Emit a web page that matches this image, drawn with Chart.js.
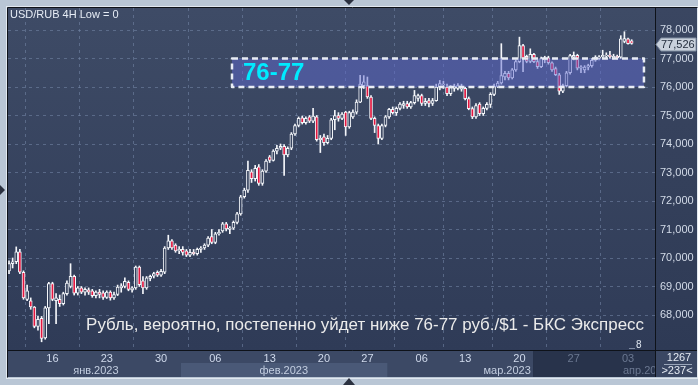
<!DOCTYPE html>
<html><head><meta charset="utf-8">
<script src="https://cdn.jsdelivr.net/npm/chart.js@4.4.0/dist/chart.umd.min.js"></script>
<style>html,body{margin:0;padding:0;background:#b9c6d5;overflow:hidden}canvas{display:block}</style>
</head><body>
<canvas id="c" width="698" height="385"></canvas>
<script>
// ---- DATA (USD/RUB 4H candles) ----
const openP = [
69.55,69.8,69.87,70.22,69.5,68.55,68.5,68.28,67.6,67.88,
67.2,68.25,69.1,68.5,68.55,68.4,68.75,69.0,69.36,68.77,
68.95,68.8,68.88,68.85,68.68,68.8,68.78,68.62,68.8,68.6,
68.72,68.95,69.0,69.15,68.88,68.95,69.68,69.2,68.95,69.28,
69.36,69.5,69.4,69.5,70.35,70.6,70.45,70.25,70.3,70.25,
70.1,70.2,70.15,70.3,70.35,70.45,70.75,70.55,70.85,70.95,
71.2,71.0,71.05,71.25,71.55,72.15,72.38,73.02,72.78,73.2,
72.62,73.05,73.55,73.42,73.75,73.85,73.92,73.62,73.85,74.35,
74.65,74.92,74.75,74.95,74.8,74.95,74.15,74.25,74.05,74.2,
74.85,75.0,74.9,75.12,74.6,74.95,75.12,75.47,76.05,76.05,
75.65,74.9,74.65,74.2,74.65,74.95,75.22,75.1,75.25,75.35,
75.42,75.3,75.45,75.6,75.7,75.42,75.52,75.42,75.52,76.0,
76.08,76.0,75.77,75.95,75.95,75.92,75.95,75.59,75.24,74.95,
75.4,75.06,75.25,75.39,75.74,76.02,76.14,76.35,76.48,76.32,
76.6,76.89,77.45,77.08,76.9,77.15,76.89,76.71,76.95,77.02,
76.85,76.65,76.43,75.85,76.05,76.5,77.05,77.11,76.66,76.6,
76.7,76.75,76.94,77.0,77.06,77.08,77.12,77.02,77.08,77.05,
77.6,77.69,77.62];
const highP = [
69.9,70.0,70.39,70.3,69.55,69.05,68.6,68.3,67.95,67.95,
68.3,69.15,69.15,68.75,68.7,68.8,69.2,69.8,69.4,69.0,
69.0,68.95,68.95,68.9,68.85,68.9,68.85,68.85,68.85,68.8,
69.05,69.1,69.3,69.2,69.0,69.72,69.72,69.35,69.35,69.4,
69.5,69.55,69.6,70.4,70.8,70.65,70.5,70.4,70.4,70.3,
70.3,70.3,70.35,70.4,70.5,70.75,71.0,70.9,71.0,71.25,
71.25,71.1,71.3,71.6,72.2,72.45,73.4,73.1,73.25,73.28,
73.1,73.45,73.6,73.8,73.95,74.0,73.98,73.9,74.4,74.7,
74.95,74.98,74.95,75.0,75.25,75.0,74.3,74.35,74.3,74.9,
75.18,75.1,75.1,75.15,75.15,75.2,75.55,76.41,76.4,76.35,
75.7,74.95,74.7,74.7,75.0,75.25,75.3,75.3,75.45,75.5,
75.5,75.5,75.88,75.75,75.75,75.6,75.6,75.6,76.1,76.23,
76.2,76.1,76.05,76.1,76.12,76.1,76.0,75.65,75.3,75.42,
75.45,75.3,75.45,75.8,76.1,76.2,77.52,76.55,76.55,76.65,
76.95,77.75,77.5,77.12,77.34,77.18,76.95,77.05,77.08,77.08,
76.88,76.7,76.48,76.1,76.55,77.15,77.23,77.15,76.75,76.75,
76.8,77.0,77.1,77.1,77.29,77.2,77.25,77.15,77.12,77.8,
77.94,77.72,77.66];
const lowP = [
69.45,69.65,69.8,69.45,68.55,68.5,68.2,67.55,67.47,67.06,
67.15,67.7,68.5,67.7,68.3,68.35,68.7,68.95,68.7,68.7,
68.75,68.7,68.72,68.62,68.6,68.6,68.55,68.58,68.52,68.55,
68.68,68.8,68.95,68.85,68.8,68.9,69.0,68.75,68.9,69.2,
69.3,69.35,69.35,69.45,70.3,70.3,70.2,70.15,70.1,70.05,
70.05,70.1,70.1,70.2,70.3,70.4,70.5,70.5,70.8,70.9,
70.95,70.85,71.0,71.2,71.5,72.1,72.3,72.65,72.7,72.55,
72.55,73.0,73.35,73.4,73.65,73.8,72.9,73.55,73.8,74.3,
74.6,74.7,74.7,74.75,74.75,74.1,73.7,73.95,74.0,74.15,
74.5,74.8,74.85,74.3,74.55,74.9,75.05,75.45,75.95,75.6,
74.85,74.4,74.0,74.15,74.6,74.9,75.05,75.0,75.2,75.25,
75.25,75.25,75.4,75.5,75.35,75.35,75.3,75.35,75.5,75.9,
75.95,75.7,75.7,75.85,75.9,75.85,75.55,75.2,74.89,74.9,
75.0,75.0,75.2,75.28,75.7,75.98,76.1,76.25,76.25,76.28,
76.55,76.85,76.54,76.85,76.85,76.85,76.65,76.68,76.85,76.8,
76.55,76.4,75.74,75.8,76.0,76.45,76.95,76.6,76.5,76.5,
76.6,76.7,76.9,76.95,77.0,77.0,77.0,76.98,76.98,77.0,
77.55,77.5,77.5];
const closeP = [
69.8,69.87,70.22,69.5,68.6,68.85,68.28,67.6,67.85,67.18,
68.25,69.1,68.55,68.6,68.4,68.75,69.12,69.36,68.77,68.95,
68.8,68.9,68.8,68.68,68.8,68.72,68.62,68.8,68.6,68.72,
68.98,69.02,69.18,68.9,68.95,69.68,69.06,68.95,69.3,69.36,
69.45,69.4,69.53,70.35,70.6,70.35,70.25,70.3,70.2,70.1,
70.2,70.15,70.3,70.35,70.45,70.7,70.55,70.85,70.9,71.2,
71.02,71.05,71.25,71.55,72.15,72.38,73.08,72.78,73.15,72.62,
73.05,73.4,73.42,73.75,73.85,73.92,73.62,73.85,74.35,74.65,
74.9,74.75,74.9,74.8,74.98,74.15,74.2,74.05,74.2,74.85,
75.0,74.9,75.05,74.6,75.1,75.12,75.47,76.1,76.18,75.65,
74.9,74.65,74.2,74.65,74.95,75.22,75.1,75.25,75.4,75.42,
75.3,75.45,75.7,75.7,75.42,75.5,75.42,75.52,76.0,76.12,
76.1,75.77,75.98,76.02,76.05,76.0,75.59,75.24,74.95,75.35,
75.06,75.25,75.39,75.74,76.02,76.14,76.4,76.48,76.32,76.6,
76.89,77.45,77.0,76.9,77.15,76.89,76.71,77.0,77.02,76.85,
76.6,76.43,75.85,76.05,76.5,77.1,77.11,76.66,76.71,76.7,
76.75,76.94,77.05,77.06,77.11,77.12,77.06,77.08,77.02,77.69,
77.7,77.52,77.526];

// x-axis ticks (candle index of each week start) and labels
const tickIndex  = [12,27,42,57,72,87,99,114,126,141,156,171];
const tickLabels = ['16','23','30','06','13','20','27','06','13','20','27','03'];
const monthLabels = ['янв.2023','фев.2023','мар.2023','апр.2023'];
const monthPos    = [24, 75.9, 137.6, 169.6];
const febBand = [47.5, 104.5];
const shadeFrom = 144.75;
// y-axis ticks
const yTicks = [68,69,70,71,72,73,74,75,76,77,78];
// highlighted zone
const zoneLow = 76, zoneHigh = 77;
const zoneFrom = 61.6, zoneTo = 175.4;
const zoneText = '76-77';
const lastPrice = 77.526;
const titleText = 'USD/RUB 4H Low = 0';
const captionText = 'Рубль, вероятно, постепенно уйдет ниже 76-77 руб./$1 - БКС Экспресс';

// ---- helpers ----
const FONT = '"Liberation Sans", Arial, sans-serif';
const RED = '#e3163f';
const WHITE = '#f4f6fa';
function fmt(v){
  const s = v.toFixed(3).split('.');
  return s[0] + ',' + s[1];
}
function bgGrad(chart){
  const a = chart.chartArea;
  if(!a) return '#37445f';
  const key = a.top + '_' + a.bottom;
  if(chart._bgKey !== key){
    const g = chart.ctx.createLinearGradient(0, a.top, 0, a.bottom);
    g.addColorStop(0, '#3e4b66');
    g.addColorStop(1, '#2f3b57');
    chart._bgG = g; chart._bgKey = key;
  }
  return chart._bgG;
}

const idx = closeP.map((_, i) => i);

const framePlugin = {
  id: 'frame',
  beforeDraw(chart){
    const {ctx, chartArea: a, scales: {x}} = chart;
    const W = chart.width, H = chart.height;
    const pe = 377;
    ctx.save();
    ctx.fillStyle = '#b9c6d5'; ctx.fillRect(0, 0, W, H);
    ctx.strokeStyle = '#e1e8f0'; ctx.lineWidth = 1;
    ctx.strokeRect(6.5, 6.5, W - 7, pe - 5);
    // plot background
    ctx.fillStyle = bgGrad(chart);
    ctx.fillRect(a.left, a.top, a.right - a.left, a.bottom - a.top);
    // right axis panel
    const g2 = ctx.createLinearGradient(0, a.top, 0, a.bottom);
    g2.addColorStop(0, '#3a4661'); g2.addColorStop(1, '#2e3a55');
    ctx.fillStyle = g2;
    ctx.fillRect(a.right, a.top, W - 1 - a.right, a.bottom - a.top);
    // bottom axis panel
    ctx.fillStyle = '#3c4965';
    ctx.fillRect(a.left, a.bottom, a.right - a.left, pe - a.bottom);
    const f0 = x.getPixelForValue(febBand[0]), f1 = x.getPixelForValue(febBand[1]);
    ctx.fillStyle = '#4a5977';
    ctx.fillRect(f0, 363, f1 - f0, pe - 363);
    const d0 = x.getPixelForValue(shadeFrom);
    ctx.fillStyle = '#28334b';
    ctx.fillRect(d0, a.bottom, a.right - d0, pe - a.bottom);
    ctx.fillStyle = '#3a4763';
    ctx.fillRect(a.right, a.bottom, W - 1 - a.right, pe - a.bottom);
    ctx.restore();
  },
  afterDatasetsDraw(chart){
    const {ctx, scales: {x, y}} = chart;
    const x0 = x.getPixelForValue(zoneFrom), x1 = x.getPixelForValue(zoneTo);
    const y0 = y.getPixelForValue(zoneHigh), y1 = y.getPixelForValue(zoneLow);
    ctx.save();
    ctx.fillStyle = 'rgba(95,106,207,0.5)';
    ctx.fillRect(x0, y0, x1 - x0, y1 - y0);
    ctx.setLineDash([6, 4]);
    ctx.lineWidth = 2.5;
    ctx.lineJoin = 'round';
    ctx.strokeStyle = '#e8ecf4';
    ctx.strokeRect(x0, y0, x1 - x0, y1 - y0);
    ctx.setLineDash([]);
    ctx.font = 'bold 24px ' + FONT;
    ctx.fillStyle = '#00eaff';
    ctx.textBaseline = 'middle';
    ctx.textAlign = 'left';
    ctx.fillText(zoneText, x0 + 11, (y0 + y1) / 2 + 1);
    ctx.restore();
  },
  afterDraw(chart){
    const {ctx, chartArea: a, scales: {x, y}} = chart;
    const W = chart.width, H = chart.height;
    const pe = 377;
    ctx.save();
    // title
    ctx.font = '11px ' + FONT;
    ctx.fillStyle = '#e6ecf5';
    ctx.textBaseline = 'middle';
    ctx.textAlign = 'left';
    ctx.fillText(titleText, 10, 14.5);
    // caption
    let fs = 16;
    ctx.font = fs + 'px ' + FONT;
    const w = ctx.measureText(captionText).width;
    fs = fs * 558 / w;
    ctx.font = fs.toFixed(2) + 'px ' + FONT;
    ctx.fillStyle = '#ebebeb';
    ctx.textAlign = 'right';
    ctx.textBaseline = 'alphabetic';
    ctx.fillText(captionText, 644, 330);
    // small "8"
    ctx.font = '10px ' + FONT;
    ctx.fillStyle = '#dfe6f0';
    ctx.textAlign = 'left';
    ctx.textBaseline = 'middle';
    ctx.fillText('8', 636, 345);
    ctx.strokeStyle = '#7d8aa2'; ctx.lineWidth = 1;
    ctx.beginPath(); ctx.moveTo(629, 348.5); ctx.lineTo(635, 348.5); ctx.stroke();
    // month labels
    ctx.font = '11px ' + FONT;
    ctx.textBaseline = 'middle';
    ctx.save();
    ctx.beginPath(); ctx.rect(a.left, a.bottom, a.right - a.left, pe - a.bottom); ctx.clip();
    monthLabels.forEach((t, k) => {
      const px = x.getPixelForValue(monthPos[k]);
      const dim = monthPos[k] >= shadeFrom;
      ctx.fillStyle = dim ? '#6b7891' : '#c3cee0';
      ctx.textAlign = k === 3 ? 'left' : 'center';
      ctx.fillText(t, px, 370.5);
    });
    ctx.restore();
    // borders
    ctx.strokeStyle = '#0e1219'; ctx.lineWidth = 1;
    ctx.beginPath();
    ctx.moveTo(a.left - 0.5, a.top - 0.5); ctx.lineTo(W - 0.5, a.top - 0.5);
    ctx.moveTo(a.left - 0.5, a.top - 0.5); ctx.lineTo(a.left - 0.5, pe + 0.5);
    ctx.moveTo(a.right + 0.5, a.top); ctx.lineTo(a.right + 0.5, pe);
    ctx.moveTo(a.left, a.bottom + 0.5); ctx.lineTo(W - 1, a.bottom + 0.5);
    ctx.stroke();
    // price tag
    const py = Math.round(y.getPixelForValue(lastPrice)) + 0.5;
    ctx.beginPath();
    ctx.moveTo(656, py); ctx.lineTo(661, py - 6.5); ctx.lineTo(696, py - 6.5);
    ctx.lineTo(696, py + 6.5); ctx.lineTo(661, py + 6.5); ctx.closePath();
    ctx.fillStyle = '#c9d1dc'; ctx.fill();
    ctx.strokeStyle = '#7f8ca0'; ctx.stroke();
    ctx.fillStyle = '#1e2838';
    ctx.font = '11px ' + FONT;
    ctx.textAlign = 'left';
    ctx.textBaseline = 'middle';
    ctx.fillText(fmt(lastPrice), 661, py + 0.5);
    // bottom-right counters
    ctx.fillStyle = '#e3e9f2';
    ctx.textAlign = 'center';
    ctx.fillText('1267', 679, 357.5);
    ctx.fillText('>237<', 677, 370.5);
    ctx.strokeStyle = '#9aa6ba';
    ctx.beginPath(); ctx.moveTo(664, 364.5); ctx.lineTo(692, 364.5); ctx.stroke();
    // small triangles on the frame
    ctx.fillStyle = '#2b3140';
    ctx.beginPath(); ctx.moveTo(344, 0); ctx.lineTo(354, 0); ctx.lineTo(349, 5); ctx.closePath(); ctx.fill();
    ctx.beginPath(); ctx.moveTo(343, 385); ctx.lineTo(355, 385); ctx.lineTo(349, 378); ctx.closePath(); ctx.fill();
    ctx.beginPath(); ctx.moveTo(0, 185); ctx.lineTo(0, 195); ctx.lineTo(5, 190); ctx.closePath(); ctx.fill();
    ctx.restore();
  }
};

const gridStyle = { color: 'rgba(118,136,170,0.55)', lineWidth: 1, drawTicks: false };

new Chart(document.getElementById('c'), {
  type: 'bar',
  data: {
    datasets: [
      {
        label: 'body',
        data: idx.map(i => ({x: i, y: [openP[i], closeP[i]]})),
        backgroundColor: (c) => {
          const i = c.dataIndex;
          if (i === undefined) return RED;
          return closeP[i] < openP[i] ? RED : bgGrad(c.chart);
        },
        borderColor: WHITE,
        borderWidth: 1,
        borderSkipped: false,
        barThickness: 3,
        grouped: false,
        order: 0
      },
      {
        label: 'wick',
        data: idx.map(i => ({x: i, y: [lowP[i], highP[i]]})),
        backgroundColor: WHITE,
        borderWidth: 0,
        barThickness: 1,
        grouped: false,
        order: 1
      }
    ]
  },
  options: {
    responsive: false,
    maintainAspectRatio: false,
    devicePixelRatio: 1,
    animation: false,
    events: [],
    layout: { padding: { left: 8, top: 8, right: 0, bottom: 0 } },
    plugins: { legend: { display: false }, tooltip: { enabled: false } },
    scales: {
      x: {
        type: 'linear',
        position: 'bottom',
        min: -0.28,
        max: 178.45,
        offset: false,
        grid: gridStyle,
        border: { display: false, dash: [3, 4] },
        afterBuildTicks: (s) => { s.ticks = tickIndex.map(v => ({value: v})); },
        afterFit: (s) => { s.height = 35; s.paddingLeft = 0; s.paddingRight = 0; },
        ticks: {
          autoSkip: false,
          maxRotation: 0,
          minRotation: 0,
          padding: 2,
          font: { family: FONT, size: 11 },
          color: (c) => (c.tick && c.tick.value >= shadeFrom) ? '#6b7891' : '#d0daec',
          callback: (v, k) => tickLabels[k]
        }
      },
      y: {
        type: 'linear',
        position: 'right',
        min: 66.772,
        max: 78.772,
        grid: gridStyle,
        border: { display: false, dash: [3, 4] },
        afterBuildTicks: (s) => { s.ticks = yTicks.map(v => ({value: v})); },
        afterFit: (s) => { s.width = 43; s.paddingTop = 0; s.paddingBottom = 0; },
        ticks: {
          padding: 5,
          font: { family: FONT, size: 11 },
          color: '#d3dbe8',
          callback: (v) => fmt(v)
        }
      }
    }
  },
  plugins: [framePlugin]
});
</script>
</body></html>
